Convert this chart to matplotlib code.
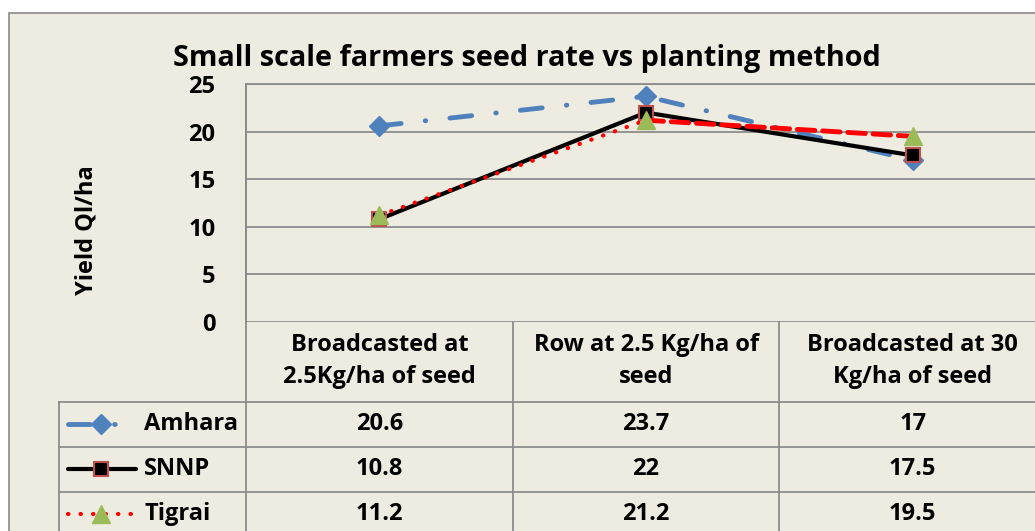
import matplotlib
matplotlib.use('Agg')
import matplotlib.pyplot as plt
from matplotlib.patches import Rectangle
from matplotlib.transforms import blended_transform_factory

plt.rcParams['font.family'] = ['Open Sans', 'DejaVu Sans']
plt.rcParams['font.weight'] = 'bold'

# data
categories = ['Broadcasted at\n2.5Kg/ha of seed', 'Row at 2.5 Kg/ha of\nseed', 'Broadcasted at 30\nKg/ha of seed']
series = ['Amhara', 'SNNP', 'Tigrai']
amhara = [20.6, 23.7, 17]
snnp = [10.8, 22, 17.5]
tigrai = [11.2, 21.2, 19.5]
values = [amhara, snnp, tigrai]
yticks = [0, 5, 10, 15, 20, 25]

bg = '#EEECE1'
grid_c = '#8C8C8C'
W, H = 1035, 531
fs = 17

fig = plt.figure(figsize=(W / 100, H / 100), dpi=100, facecolor='white')
fig.patches.append(Rectangle((9 / W, -0.01), 1.0, (H - 13) / H + 0.01, transform=fig.transFigure,
                             facecolor=bg, edgecolor='#898989', lw=1.2, zorder=-10))

# plot area in pixel layout
left, right, top, bottom = 246, 1046, 84, 322
ax = fig.add_axes([left / W, (H - bottom) / H, (right - left) / W, (bottom - top) / H])
ax.patch.set_alpha(0)
ax.set_xlim(-0.5, 2.5)
ax.set_ylim(0, 25)
ax.set_yticks(yticks)
ax.set_yticklabels([str(t) for t in yticks], fontsize=fs, fontweight='bold')
ax.tick_params(axis='y', length=0, pad=22)
ax.set_xticks([])
for s in ['right', 'bottom']:
    ax.spines[s].set_visible(False)
for s in ['left', 'top']:
    ax.spines[s].set_color(grid_c)
    ax.spines[s].set_linewidth(1.3)
ax.yaxis.grid(True, color=grid_c, lw=1.3)
ax.set_axisbelow(True)
ax.set_ylabel('Yield Ql/ha', fontsize=fs, fontweight='bold')
ax.yaxis.set_label_coords((98 - left) / (right - left), (bottom - 230) / (bottom - top))
ax.set_title('Small scale farmers seed rate vs planting method', fontsize=20.8, fontweight='bold',
             pad=13, x=(527 - left) / (right - left))

x = list(range(len(categories)))
blue, red_edge, green = '#4F81BD', '#C0504D', '#9BBB59'

ax.plot(x, amhara, color=blue, lw=3.5, dashes=(4.5, 5, 0.1, 5), dash_capstyle='round',
        marker='D', ms=10, mfc=blue, mec=blue, zorder=3, clip_on=False)
ax.plot(x, snnp, color='black', lw=3, marker='s', ms=10, mfc='black', mec=red_edge, mew=1.5,
        zorder=4, clip_on=False)
# Tigrai: dotted first segment, dashed second
ax.plot(x[:2], tigrai[:2], color='red', lw=3, dashes=(0.1, 2.9), dash_capstyle='round', zorder=5)
ax.plot(x[1:], tigrai[1:], color='red', lw=3.5, dashes=(3.6, 1.6), dash_capstyle='round', zorder=5)
ax.plot(x, tigrai, ls='none', marker='^', ms=13, mfc=green, mec=green, zorder=5, clip_on=False)

# data table
tr = blended_transform_factory(ax.transData, ax.transAxes)
ph = bottom - top
yf = lambda r: (bottom - r) / ph
px = lambda p: (p - left) / ((right - left) / 3) - 0.5
row_lines = [402, 447, 492]
row_centers = [424, 469, 514]
xl = px(59)
for xv in [-0.5, 0.5, 1.5]:
    ax.plot([xv, xv], [1 if xv == -0.5 else 0, yf(560)], color=grid_c, lw=1.3, transform=tr, clip_on=False)
ax.plot([xl, xl], [yf(402), yf(560)], color=grid_c, lw=1.3, transform=tr, clip_on=False)
for r in row_lines:
    ax.plot([xl, 2.5], [yf(r), yf(r)], color=grid_c, lw=1.3, transform=tr, clip_on=False)

for i, c in enumerate(categories):
    ax.text(i, yf(361), c, ha='center', va='center', fontsize=fs, fontweight='bold',
            linespacing=1.45, transform=tr)
for j, (name, vals) in enumerate(zip(series, values)):
    yc = yf(row_centers[j])
    for i, v in enumerate(vals):
        ax.text(i, yc, '{:g}'.format(v), ha='center', va='center', fontsize=fs, fontweight='bold',
                transform=tr)
    ax.text(px(144), yc, name, ha='left', va='center', fontsize=fs, fontweight='bold', transform=tr)

# legend keys
ka, kb, km = px(68), px(136), px(101)
yc = yf(row_centers[0])
ax.plot([ka, kb], [yc, yc], color=blue, lw=3.5, dashes=(4.5, 5, 0.1, 5), dash_capstyle='round',
        transform=tr, clip_on=False)
ax.plot([km], [yc], marker='D', ms=10, color=blue, transform=tr, clip_on=False)
yc = yf(row_centers[1])
ax.plot([ka, kb], [yc, yc], color='black', lw=3, solid_capstyle='round', transform=tr, clip_on=False)
ax.plot([km], [yc], marker='s', ms=10, mfc='black', mec=red_edge, mew=1.5, transform=tr, clip_on=False)
yc = yf(row_centers[2])
ax.plot([ka, kb], [yc, yc], color='red', lw=3, dashes=(0.1, 2.9), dash_capstyle='round',
        transform=tr, clip_on=False)
ax.plot([km], [yc], marker='^', ms=13, color=green, transform=tr, clip_on=False)

fig.savefig('out.png', dpi=100, facecolor='white')
